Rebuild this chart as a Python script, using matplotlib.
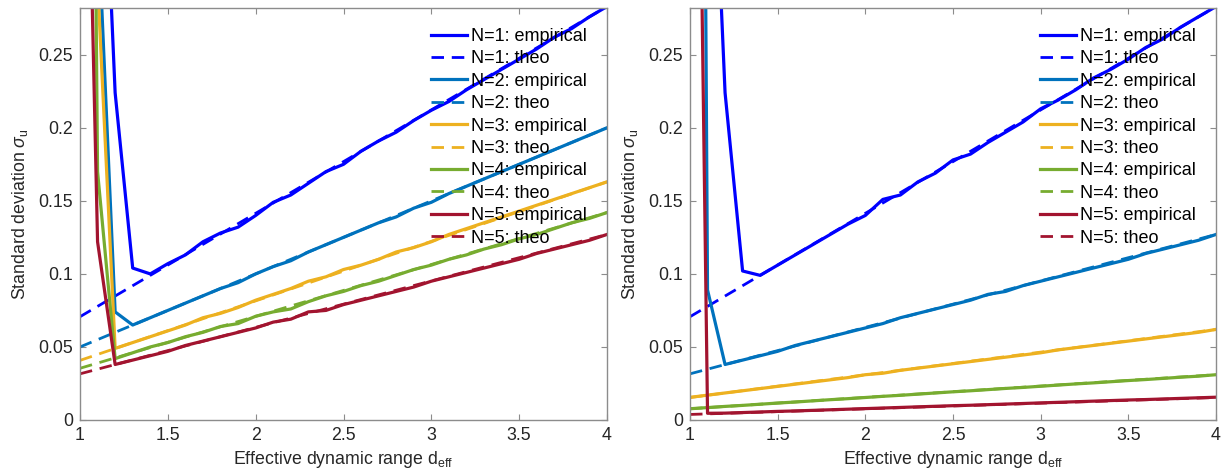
"""Standard deviation vs effective dynamic range, empirical and theoretical, two panels."""
import matplotlib
matplotlib.use('Agg')
import matplotlib.pyplot as plt

plt.rcParams['font.family'] = ['Liberation Sans', 'DejaVu Sans']
plt.rcParams['mathtext.fontset'] = 'custom'
plt.rcParams['mathtext.rm'] = 'Liberation Sans'
plt.rcParams['mathtext.it'] = 'Liberation Sans:italic'

D_EFF = [1.0, 1.1, 1.2, 1.3, 1.4, 1.5, 1.6, 1.7, 1.8, 1.9, 2.0,
         2.1, 2.2, 2.3, 2.4, 2.5, 2.6, 2.7, 2.8, 2.9, 3.0,
         3.1, 3.2, 3.3, 3.4, 3.5, 3.6, 3.7, 3.8, 3.9, 4.0]
THEO_X = [1.0, 4.0]

LABELS = ['N=1', 'N=2', 'N=3', 'N=4', 'N=5']
COLORS = ['#0000ff', '#0072bd', '#edb120', '#77ac30', '#a2142f']

# left panel: empirical sigma_u per N
LEFT_N1 = [1.0, 0.5, 0.224, 0.104, 0.100, 0.107, 0.113, 0.122, 0.128, 0.132, 0.140,
           0.149, 0.154, 0.162, 0.170, 0.175, 0.184, 0.191, 0.197, 0.205, 0.212,
           0.218, 0.226, 0.233, 0.240, 0.247, 0.254, 0.262, 0.268, 0.276, 0.283]
LEFT_N2 = [1.0, 0.348, 0.074, 0.065, 0.070, 0.075, 0.080, 0.085, 0.090, 0.094, 0.100,
           0.105, 0.109, 0.115, 0.120, 0.125, 0.130, 0.135, 0.139, 0.145, 0.149,
           0.155, 0.160, 0.165, 0.170, 0.175, 0.180, 0.185, 0.190, 0.195, 0.200]
LEFT_N3 = [2.0, 0.30, 0.049, 0.053, 0.057, 0.061, 0.065, 0.070, 0.073, 0.077, 0.082,
           0.086, 0.090, 0.095, 0.098, 0.103, 0.106, 0.110, 0.115, 0.118, 0.122,
           0.127, 0.131, 0.135, 0.139, 0.143, 0.147, 0.151, 0.155, 0.159, 0.163]
LEFT_N4 = [1.5, 0.17, 0.042, 0.046, 0.050, 0.053, 0.057, 0.060, 0.064, 0.066, 0.071,
           0.074, 0.076, 0.081, 0.085, 0.088, 0.092, 0.095, 0.099, 0.103, 0.106,
           0.110, 0.113, 0.117, 0.120, 0.124, 0.127, 0.131, 0.135, 0.138, 0.142]
LEFT_N5 = [0.655, 0.122, 0.038, 0.041, 0.044, 0.047, 0.051, 0.054, 0.057, 0.060, 0.063,
           0.067, 0.069, 0.074, 0.075, 0.079, 0.082, 0.085, 0.088, 0.091, 0.095,
           0.098, 0.101, 0.104, 0.107, 0.110, 0.114, 0.117, 0.120, 0.123, 0.127]
LEFT_THEO = [[0.0707, 0.283], [0.050, 0.200], [0.0408, 0.163],
             [0.0354, 0.142], [0.0316, 0.127]]

# right panel: empirical sigma_u per N
RIGHT_N1 = [1.0, 0.5, 0.224, 0.102, 0.099, 0.106, 0.113, 0.120, 0.127, 0.134, 0.140,
            0.151, 0.154, 0.163, 0.169, 0.178, 0.182, 0.190, 0.197, 0.204, 0.213,
            0.219, 0.226, 0.234, 0.240, 0.247, 0.255, 0.261, 0.269, 0.276, 0.283]
RIGHT_N2 = [2.0, 0.089, 0.038, 0.041, 0.044, 0.047, 0.051, 0.054, 0.057, 0.060, 0.063,
            0.066, 0.070, 0.073, 0.076, 0.079, 0.082, 0.086, 0.088, 0.092, 0.095,
            0.098, 0.101, 0.104, 0.107, 0.110, 0.114, 0.117, 0.120, 0.123, 0.127]
RIGHT_N3 = [0.0155, 0.017, 0.0185, 0.020, 0.0215, 0.023, 0.0245, 0.026, 0.0275, 0.029, 0.031,
            0.032, 0.034, 0.0355, 0.037, 0.0385, 0.040, 0.0415, 0.043, 0.0445, 0.046,
            0.048, 0.0495, 0.051, 0.0525, 0.054, 0.0555, 0.057, 0.0585, 0.060, 0.062]
RIGHT_N4 = [0.0077, 0.0085, 0.0093, 0.010, 0.0108, 0.0116, 0.0123, 0.0131, 0.0139, 0.0146, 0.0154,
            0.0162, 0.0169, 0.0177, 0.0185, 0.0193, 0.020, 0.0208, 0.0216, 0.0223, 0.0231,
            0.0239, 0.0247, 0.0254, 0.0262, 0.027, 0.0277, 0.0285, 0.0293, 0.030, 0.031]
RIGHT_N5 = [0.9, 0.0046, 0.0047, 0.0051, 0.0055, 0.0059, 0.0062, 0.0066, 0.0070, 0.0074, 0.0078,
            0.0082, 0.0086, 0.0090, 0.0094, 0.0098, 0.0101, 0.0105, 0.0109, 0.0113, 0.0117,
            0.0121, 0.0125, 0.0129, 0.0133, 0.0137, 0.0140, 0.0144, 0.0148, 0.0152, 0.0156]
RIGHT_THEO = [[0.0707, 0.283], [0.0316, 0.127], [0.0154, 0.062],
              [0.0077, 0.031], [0.0038, 0.0154]]

Y_TICKS = [0, 0.05, 0.1, 0.15, 0.2, 0.25]
Y_TICK_LABELS = ['0', '0.05', '0.1', '0.15', '0.2', '0.25']
X_TICKS = [1, 1.5, 2, 2.5, 3, 3.5, 4]
X_TICK_LABELS = ['1', '1.5', '2', '2.5', '3', '3.5', '4']

FONT_SIZE = 12.8
SPINE_GRAY = '#8c8c8c'
TEXT_GRAY = '#262626'


def draw_panel(ax, empirical, theo):
    for label, color, emp, th in zip(LABELS, COLORS, empirical, theo):
        ax.plot(D_EFF, emp, color=color, lw=2.3, label=f'{label}: empirical')
        ax.plot(THEO_X, th, color=color, lw=2.0, ls=(0, (4.5, 2.8)),
                label=f'{label}: theo')
    ax.set_xlim(1, 4)
    ax.set_ylim(0, 0.282)
    ax.set_xticks(X_TICKS, X_TICK_LABELS)
    ax.set_yticks(Y_TICKS, Y_TICK_LABELS)
    ax.tick_params(direction='in', length=4, width=0.8, top=True, right=True,
                   color=SPINE_GRAY, labelcolor=TEXT_GRAY, labelsize=FONT_SIZE, pad=5)
    for spine in ax.spines.values():
        spine.set_color(SPINE_GRAY)
        spine.set_linewidth(1.0)
    ax.set_xlabel(r'Effective dynamic range d$_{\rm eff}$', fontsize=FONT_SIZE,
                  color=TEXT_GRAY, labelpad=4)
    ax.set_ylabel(r'Standard deviation $\sigma_{\rm u}$', fontsize=FONT_SIZE,
                  color=TEXT_GRAY, labelpad=6)
    ax.legend(loc='upper right', frameon=False, fontsize=13,
              handlelength=2.0, handletextpad=0.25, labelspacing=0.30,
              borderaxespad=0.7, borderpad=0.4)


fig = plt.figure(figsize=(12.28, 4.76), dpi=100)
ax_left = fig.add_axes([80 / 1228, 56 / 476, 527 / 1228, 412 / 476])
ax_right = fig.add_axes([690 / 1228, 56 / 476, 526 / 1228, 412 / 476])

draw_panel(ax_left, [LEFT_N1, LEFT_N2, LEFT_N3, LEFT_N4, LEFT_N5], LEFT_THEO)
draw_panel(ax_right, [RIGHT_N1, RIGHT_N2, RIGHT_N3, RIGHT_N4, RIGHT_N5], RIGHT_THEO)

fig.savefig('out.png', dpi=100)
